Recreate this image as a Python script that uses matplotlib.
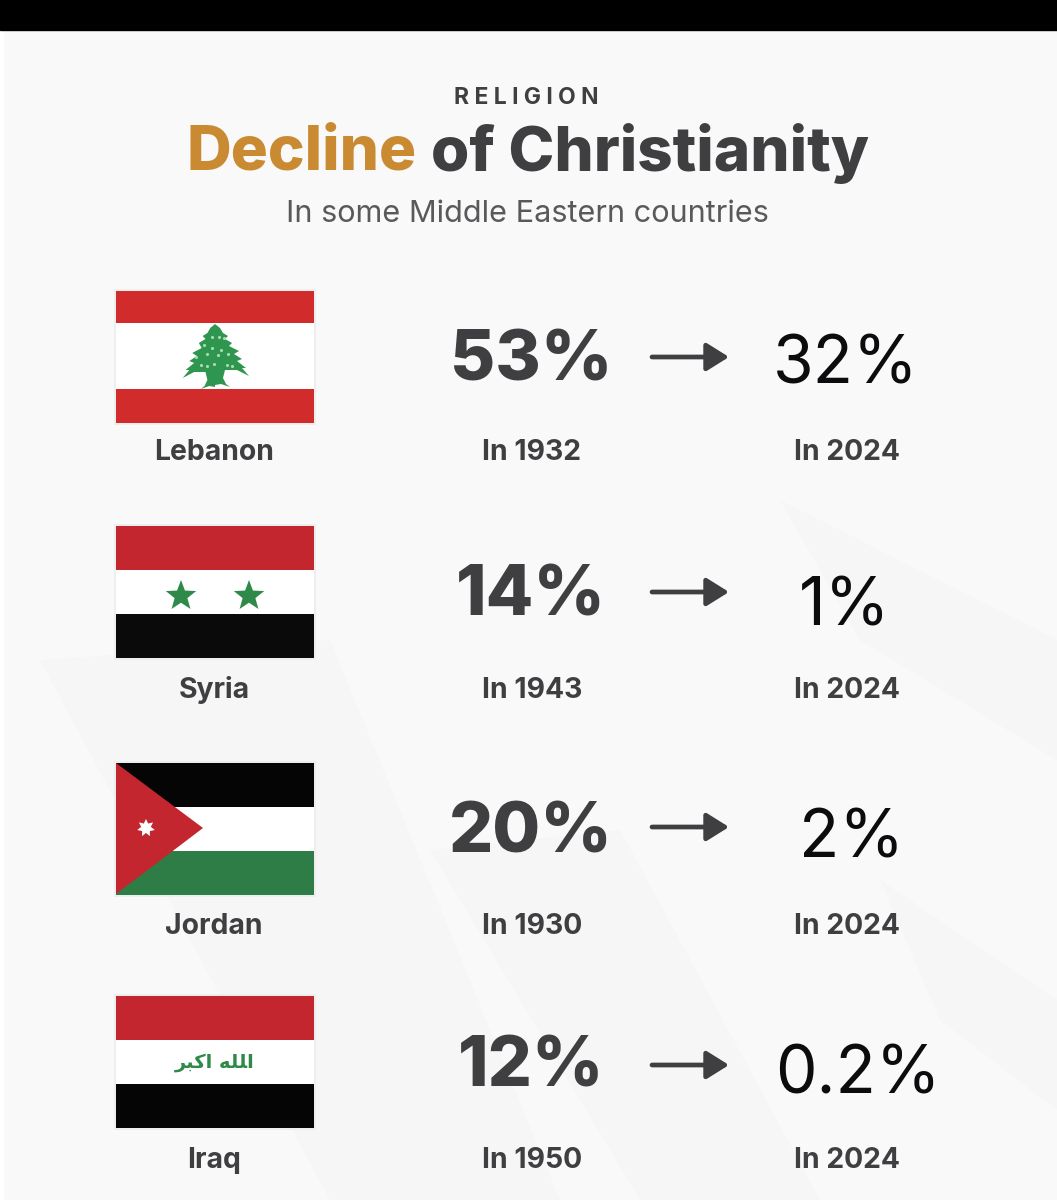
import numpy as np
import matplotlib
matplotlib.use("Agg")
import matplotlib.pyplot as plt
from matplotlib.patches import Rectangle, Polygon, FancyArrowPatch

plt.rcParams['font.family'] = ['Inter', 'DejaVu Sans']

countries = ["Lebanon", "Syria", "Jordan", "Iraq"]
before_pct = ["53%", "14%", "20%", "12%"]
after_pct = ["32%", "1%", "2%", "0.2%"]
before_year = ["In 1932", "In 1943", "In 1930", "In 1950"]
after_year = ["In 2024", "In 2024", "In 2024", "In 2024"]
flag_tops = [291, 526, 763, 996]
label_y = [453, 690, 926, 1160]
before_y = [362, 597, 834, 1068]
after_x = [846, 845, 851, 858]
after_y = [366, 608, 840, 1076]
arrow_y = [357, 592, 827, 1065]

RED = "#d12b2b"
DRED = "#c3262e"
GREEN = "#2f8a4a"
DARK = "#3f3f42"

fig = plt.figure(figsize=(10.57, 12), dpi=100, facecolor="#f9f9f9")
ax = fig.add_axes([0, 0, 1, 1])
ax.set_xlim(0, 1057)
ax.set_ylim(1200, 0)
ax.axis("off")

# page background
ax.add_patch(Rectangle((0, 0), 1057, 1200, color="#f9f9f9", zorder=0))
for pts in ([(40, 660), (330, 640), (560, 1200), (330, 1200)],
            [(430, 850), (620, 830), (820, 1200), (640, 1200)],
            [(780, 500), (1057, 640), (1057, 760), (860, 640)],
            [(880, 880), (1057, 1000), (1057, 1110), (940, 1020)]):
    ax.add_patch(Polygon(pts, closed=True, color="#f6f6f6", lw=0, zorder=0.5))
ax.add_patch(Rectangle((0, 0), 1057, 30, color="black", zorder=5))
ax.add_patch(Rectangle((0, 30), 3, 1170, color="#ffffff", zorder=1))

# heading
ax.text(526, 98, "R\u2009\u200aE\u2009\u200aL\u2009\u200aI\u2009\u200aG\u2009\u200aI\u2009\u200aO\u2009\u200aN",
        ha="center", va="center", fontsize=16.5, fontweight="bold", color=DARK)
ax.text(187, 153, "Decline", ha="left", va="center", fontsize=44.6, fontweight=800, color="#c98a32")
ax.text(431, 153, "of Christianity", ha="left", va="center", fontsize=44.6, fontweight=800, color=DARK)
ax.text(527, 214, "In some Middle Eastern countries", ha="center", va="center", fontsize=22.1, color="#59595c")


def stripes(top, colors):
    h = 132 / 3
    for i, c in enumerate(colors):
        ax.add_patch(Rectangle((116, top + i * h), 198, h, color=c, lw=0, zorder=2))


def shadow(top):
    ax.add_patch(Rectangle((114, top - 2), 202, 136, color="#eeeeee", lw=0, zorder=1.5))


def star(cx, cy, r, n=5, inner=0.42, color=GREEN, z=3):
    ang = -np.pi / 2 + np.arange(2 * n) * np.pi / n
    rad = np.where(np.arange(2 * n) % 2 == 0, r, r * inner)
    ax.add_patch(Polygon(np.c_[cx + rad * np.cos(ang), cy + rad * np.sin(ang)],
                         closed=True, color=color, lw=0, zorder=z))


def cedar(cx, top):
    g = "#2f9650"
    half = [(0, 0), (5, 4), (8, 9), (13, 12), (10, 15), (17, 19), (14, 22), (24, 27), (19, 30),
            (27, 35), (22, 37), (31, 44), (27, 44), (34, 52), (22, 46), (10, 46), (8, 54),
            (11, 60), (15, 63), (6, 60), (0, 61)]
    right = [(cx + a, top + b) for a, b in half]
    lft = [(cx - 0.95 * a, top + b + (2 if b > 20 else 0)) for a, b in reversed(half)]
    ax.add_patch(Polygon(right + lft, closed=True, color=g, lw=0, zorder=3))
    dots = [(-3, 13), (4, 13), (9, 14), (-11, 21), (-3, 24), (6, 26), (-19, 33), (-8, 30),
            (3, 31), (13, 30), (-14, 41), (-8, 42), (-1, 40), (12, 41), (17, 42)]
    ax.scatter([cx + a for a, b in dots], [top + b for a, b in dots], s=5, color="#a9dcb5", lw=0, zorder=4)


# Lebanon
t = flag_tops[0]
shadow(t)
ax.add_patch(Rectangle((116, t), 198, 132, color="white", lw=0, zorder=2))
ax.add_patch(Rectangle((116, t), 198, 32, color=RED, lw=0, zorder=2))
ax.add_patch(Rectangle((116, t + 98), 198, 34, color=RED, lw=0, zorder=2))
cedar(215, t + 33)

# Syria
t = flag_tops[1]
shadow(t)
stripes(t, [DRED, "white", "#0a0a0a"])
star(181, t + 70, 16)
star(249, t + 70, 16)

# Jordan
t = flag_tops[2]
shadow(t)
stripes(t, ["#050505", "white", "#2f7d46"])
ax.add_patch(Polygon([(116, t), (203, t + 65), (116, t + 131)], closed=True, color=DRED, lw=0, zorder=3))
star(146, t + 65, 9, n=7, inner=0.55, color="white", z=4)

# Iraq
t = flag_tops[3]
shadow(t)
stripes(t, [DRED, "white", "#050505"])
ax.text(215, t + 66, "\uFEAE\uFE92\uFEDB\uFE8D \uFEEA\uFEE0\uFEE0\uFE8D", ha="center", va="center",
        fontsize=14, fontweight="bold", color="#2f8a4a", fontfamily="DejaVu Sans", zorder=4)

# rows
for i in range(4):
    ax.text(214, label_y[i], countries[i], ha="center", va="center", fontsize=20.4, fontweight="bold", color=DARK)
    ax.text(531, before_y[i], before_pct[i], ha="center", va="center", fontsize=50, fontweight=800, color=DARK)
    ax.text(after_x[i], after_y[i], after_pct[i], ha="center", va="center", fontsize=47.5, color="#0c0c0e")
    ax.text(532, label_y[i], before_year[i], ha="center", va="center", fontsize=20.4, fontweight="bold", color=DARK)
    ax.text(847, label_y[i], after_year[i], ha="center", va="center", fontsize=20.4, fontweight="bold", color=DARK)
    ax.add_patch(FancyArrowPatch((652, arrow_y[i]), (729, arrow_y[i]),
                                 arrowstyle="-|>,head_length=0.8,head_width=0.5",
                                 mutation_scale=17, lw=3.4, color=DARK, shrinkA=0, shrinkB=0, zorder=3))

fig.savefig("out.png", dpi=100, facecolor=fig.get_facecolor())
